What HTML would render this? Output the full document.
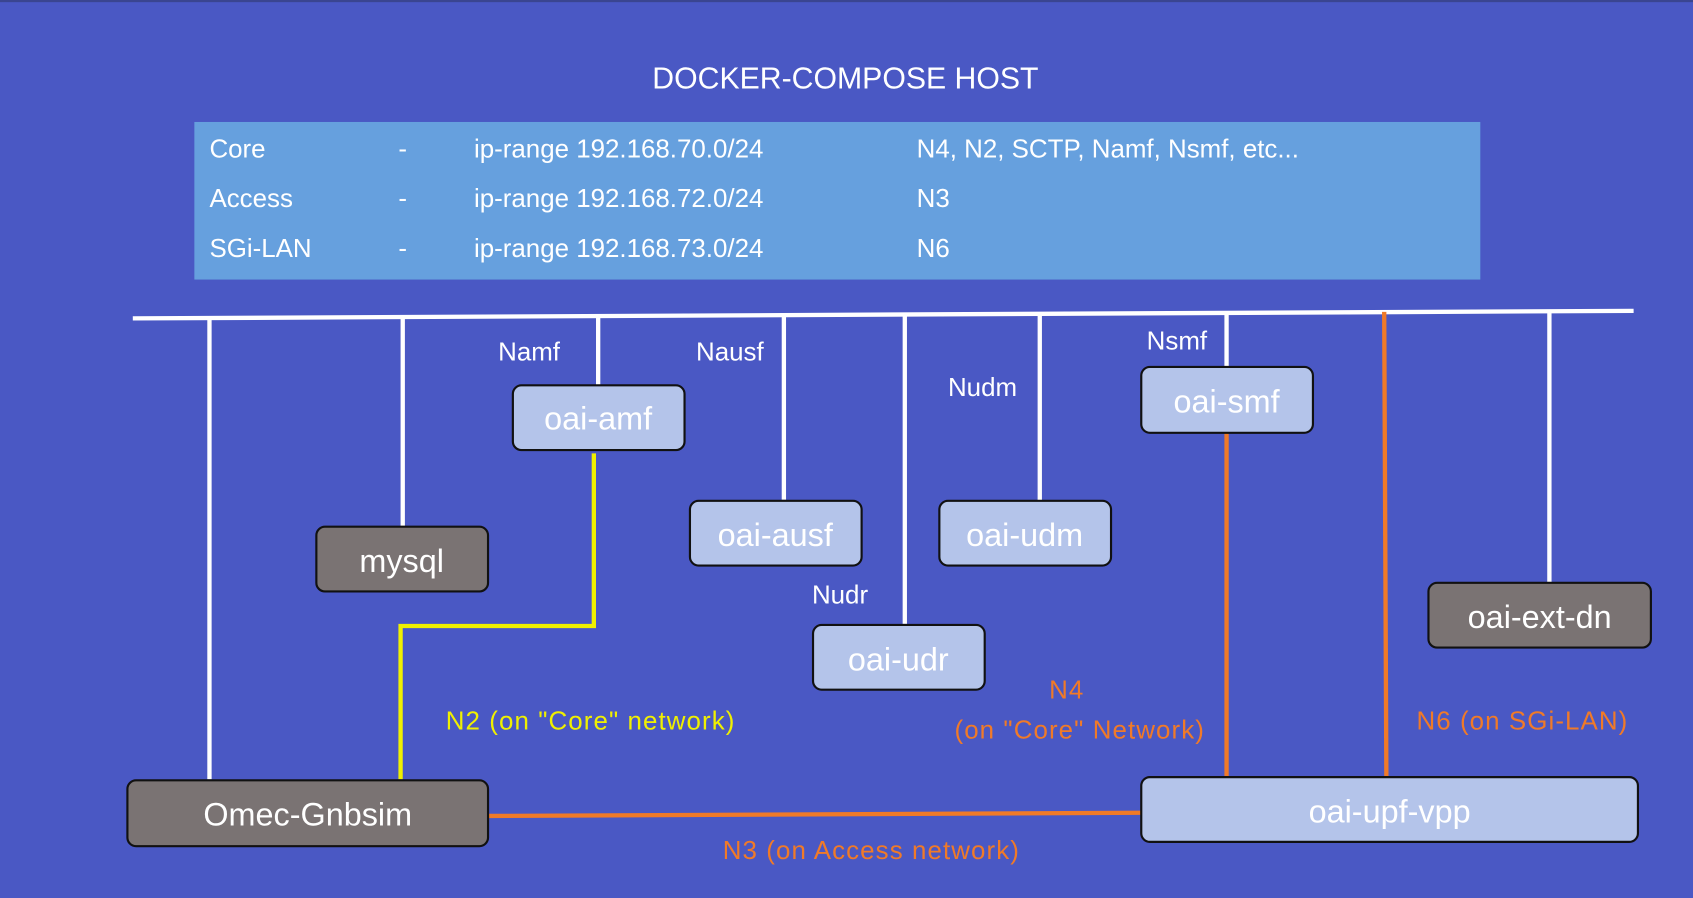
<!DOCTYPE html>
<html><head><meta charset="utf-8"><style>
html,body{margin:0;padding:0;background:#4a58c4;}
svg{display:block;}
text{font-family:"Liberation Sans",sans-serif;}
</style></head><body>
<svg width="1693" height="898" viewBox="0 0 1568 832" preserveAspectRatio="none" xmlns="http://www.w3.org/2000/svg">
<rect x="0" y="0" width="1568" height="832" fill="#4a58c4"/>
<rect x="0" y="0" width="1568" height="2" fill="#3a4590"/>
<text x="783" y="82" fill="#fff" font-size="28" text-anchor="middle">DOCKER-COMPOSE HOST</text>
<rect x="180" y="113" width="1191" height="146" fill="#66a0de"/>
<g fill="#fff" font-size="24">
<text x="194" y="146">Core</text><text x="369" y="146">-</text><text x="439" y="146">ip-range 192.168.70.0/24</text><text x="849" y="146">N4, N2, SCTP, Namf, Nsmf, etc...</text>
<text x="194" y="192">Access</text><text x="369" y="192">-</text><text x="439" y="192">ip-range 192.168.72.0/24</text><text x="849" y="192">N3</text>
<text x="194" y="238">SGi-LAN</text><text x="369" y="238">-</text><text x="439" y="238">ip-range 192.168.73.0/24</text><text x="849" y="238">N6</text>
</g>
<g stroke="#fff" stroke-width="4" fill="none">
<line x1="123" y1="295" x2="1513" y2="288"/>
<line x1="194" y1="295" x2="194" y2="722"/>
<line x1="373" y1="295" x2="373" y2="490"/>
<line x1="554" y1="294" x2="554" y2="357"/>
<line x1="726" y1="293" x2="726" y2="463"/>
<line x1="838" y1="292" x2="838" y2="578"/>
<line x1="963" y1="291" x2="963" y2="465"/>
<line x1="1136" y1="290" x2="1136" y2="340"/>
<line x1="1435" y1="288" x2="1435" y2="540"/>
</g>
<g stroke="#f07a28" stroke-width="4" fill="none">
<line x1="1282" y1="289" x2="1284" y2="720"/>
<line x1="1136" y1="401" x2="1136" y2="720"/>
<line x1="452" y1="756" x2="1057" y2="753"/>
</g>
<polyline points="550,420 550,580 371,580 371,722" stroke="#f0f000" stroke-width="4" fill="none"/>
<g stroke="#111" stroke-width="2">
<rect x="475" y="357" width="159" height="60" rx="8" fill="#b4c4ea"/>
<rect x="293" y="488" width="159" height="60" rx="8" fill="#7a7373"/>
<rect x="639" y="464" width="159" height="60" rx="8" fill="#b4c4ea"/>
<rect x="870" y="464" width="159" height="60" rx="8" fill="#b4c4ea"/>
<rect x="753" y="579" width="159" height="60" rx="8" fill="#b4c4ea"/>
<rect x="1057" y="340" width="159" height="61" rx="8" fill="#b4c4ea"/>
<rect x="1323" y="540" width="206" height="60" rx="8" fill="#7a7373"/>
<rect x="118" y="723" width="334" height="61" rx="8" fill="#7a7373"/>
<rect x="1057" y="720" width="460" height="60" rx="8" fill="#b4c4ea"/>
</g>
<g fill="#fff" font-size="30" text-anchor="middle">
<text x="554" y="398">oai-amf</text>
<text x="372" y="530">mysql</text>
<text x="718" y="506">oai-ausf</text>
<text x="949" y="506">oai-udm</text>
<text x="832" y="621">oai-udr</text>
<text x="1136" y="382">oai-smf</text>
<text x="1426" y="582">oai-ext-dn</text>
<text x="285" y="765">Omec-Gnbsim</text>
<text x="1287" y="762">oai-upf-vpp</text>
</g>
<g fill="#fff" font-size="24" text-anchor="middle">
<text x="490" y="334">Namf</text>
<text x="676" y="334">Nausf</text>
<text x="910" y="367">Nudm</text>
<text x="1090" y="324">Nsmf</text>
<text x="778" y="559">Nudr</text>
</g>
<text x="547" y="676" fill="#f0f000" font-size="24" letter-spacing="1" text-anchor="middle">N2 (on "Core" network)</text>
<g fill="#f07a28" font-size="24" letter-spacing="1" text-anchor="middle">
<text x="988" y="647">N4</text>
<text x="1000" y="684">(on "Core" Network)</text>
<text x="1410" y="676">N6 (on SGi-LAN)</text>
<text x="807" y="796">N3 (on Access network)</text>
</g>
</svg>
</body></html>
